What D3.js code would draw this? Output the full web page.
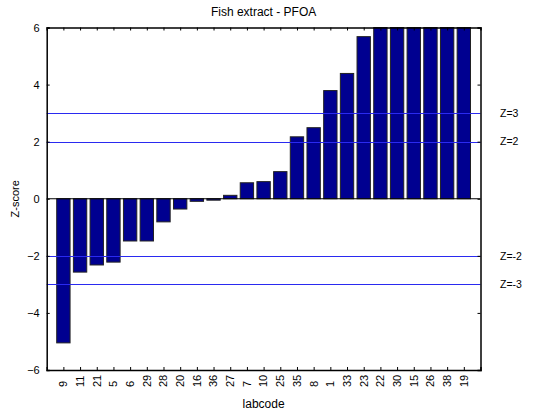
<!DOCTYPE html>
<html><head><meta charset="utf-8">
<script src="https://cdn.jsdelivr.net/npm/d3@7"></script>
<style>body{margin:0;background:#fff}text{font-family:Arial,"Liberation Sans",sans-serif;fill:#000}</style>
</head><body><svg id="c" width="533" height="414"></svg>
<script>
const labcodes = ["9","11","21","5","6","29","28","20","16","36","27","7","10","25","35","8","1","33","23","22","30","15","26","38","19"];
const zscores = [-5.05,-2.57,-2.32,-2.22,-1.48,-1.48,-0.81,-0.36,-0.09,-0.05,0.12,0.56,0.60,0.95,2.17,2.49,3.79,4.39,5.68,6,6,6,6,6,6];
const yTicks = [-6,-4,-2,0,2,4,6];
const refLines = [3,2,-2,-3];
const refLabels = ["Z=3","Z=2","Z=-2","Z=-3"];

const svg = d3.select("#c");
const L=46.7, R=480.5, T=27.5, B=370;
const x = d3.scaleLinear().domain([0, labcodes.length+1]).range([L,R]);
const y = d3.scaleLinear().domain([-6,6]).range([B,T]);
const bw = (x(1)-x(0))*0.8;

// bars
svg.append("g").selectAll("rect").data(zscores).join("rect")
  .attr("x",(d,i)=>x(i+1)-bw/2)
  .attr("width",bw)
  .attr("y",d=>y(Math.max(0,Math.min(6,d))))
  .attr("height",d=>Math.abs(y(Math.min(6,d))-y(0)))
  .attr("fill","#000090").attr("stroke","#222").attr("stroke-width",1);

// zero line
svg.append("line").attr("x1",L).attr("x2",R).attr("y1",y(0)).attr("y2",y(0)).attr("stroke","#000").attr("stroke-width",1);

// ref lines
svg.append("g").selectAll("line").data(refLines).join("line")
  .attr("x1",L).attr("x2",R).attr("y1",d=>Math.round(y(d))+0.5).attr("y2",d=>Math.round(y(d))+0.5)
  .attr("stroke","#2a2af0").attr("stroke-width",1);
svg.append("g").selectAll("text").data(refLines).join("text")
  .attr("x",500).attr("y",d=>y(d)).attr("dy","0.35em")
  .attr("font-size",10.5).text((d,i)=>refLabels[i]);

// axes
const axL = d3.axisLeft(y).tickValues(yTicks).tickSize(-3).tickPadding(7).tickFormat(d3.format("d"));
const gL = svg.append("g").attr("transform",`translate(${L},0)`).call(axL);
const axR = d3.axisRight(y).tickValues(yTicks).tickSize(-3).tickFormat("");
const gR = svg.append("g").attr("transform",`translate(${R},0)`).call(axR);
const tickIdx = d3.range(1, labcodes.length+1);
const axB = d3.axisBottom(x).tickValues(tickIdx).tickSize(-3).tickFormat("");
const gB = svg.append("g").attr("transform",`translate(0,${B})`).call(axB);
const axT = d3.axisTop(x).tickValues(tickIdx).tickSize(-3).tickFormat("");
const gT = svg.append("g").attr("transform",`translate(0,${T})`).call(axT);
[gL,gR,gB,gT].forEach(g=>{
  g.select(".domain").attr("stroke","#000").attr("stroke-width",1.5);
  g.selectAll(".tick line").attr("stroke","#000");
});
gL.selectAll(".tick text").attr("font-size",11).attr("font-family","Arial, 'Liberation Sans', sans-serif");

// x labels
svg.append("g").selectAll("text").data(labcodes).join("text")
  .attr("transform",(d,i)=>`translate(${x(i+1)},387) rotate(-90)`)
  .attr("dy","0.35em").attr("text-anchor","start").attr("font-size",11).text(d=>d);

// titles
svg.append("text").attr("x",(L+R)/2).attr("y",16).attr("text-anchor","middle").attr("font-size",12).text("Fish extract - PFOA");
svg.append("text").attr("x",(L+R)/2).attr("y",408).attr("text-anchor","middle").attr("font-size",12).text("labcode");
svg.append("text").attr("transform",`translate(19,${y(0)}) rotate(-90)`).attr("text-anchor","middle").attr("font-size",11).text("Z-score");
</script></body></html>
